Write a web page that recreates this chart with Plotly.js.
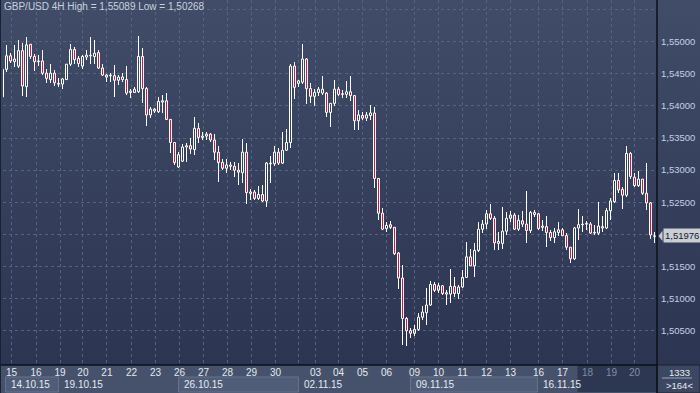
<!DOCTYPE html>
<html><head><meta charset="utf-8">
<script src="https://cdn.plot.ly/plotly-3.0.1.min.js"></script>
<style>
html,body{margin:0;padding:0;background:#2c3550;overflow:hidden;}
#chart{width:700px;height:393px;background:linear-gradient(to bottom,#404c68 0%,#2c3551 92%,#2c3551 100%);}
.scatterlayer path.js-line{shape-rendering:crispEdges;}
</style></head><body><div id="chart"></div>
<script>
const titleText = 'GBP/USD 4H High = 1,55089 Low = 1,50268';
const openP  = [1.5414,1.5457,1.5478,1.5469,1.5462,1.5486,1.5430,1.5496,1.5477,1.5469,1.5470,1.5451,1.5441,1.5451,1.5434,1.5434,1.5441,1.5465,1.5488,1.5474,1.5462,1.5476,1.5478,1.5477,1.5483,1.5459,1.5445,1.5447,1.5447,1.5440,1.5445,1.5441,1.5421,1.5421,1.5422,1.5477,1.5427,1.5386,1.5395,1.5391,1.5406,1.5408,1.5379,1.5343,1.5305,1.5314,1.5336,1.5338,1.5332,1.5365,1.5351,1.5353,1.5356,1.5347,1.5328,1.5312,1.5303,1.5306,1.5306,1.5300,1.5296,1.5328,1.5264,1.5266,1.5256,1.5262,1.5252,1.5310,1.5310,1.5328,1.5311,1.5331,1.5343,1.5462,1.5435,1.5437,1.5473,1.5427,1.5415,1.5421,1.5420,1.5420,1.5390,1.5404,1.5426,1.5418,1.5418,1.5422,1.5416,1.5377,1.5385,1.5381,1.5385,1.5389,1.5287,1.5233,1.5209,1.5215,1.5211,1.5171,1.5132,1.5069,1.5050,1.5046,1.5052,1.5071,1.5078,1.5090,1.5122,1.5113,1.5120,1.5107,1.5107,1.5119,1.5108,1.5118,1.5133,1.5165,1.5151,1.5175,1.5208,1.5216,1.5232,1.5225,1.5186,1.5186,1.5205,1.5225,1.5230,1.5208,1.5221,1.5216,1.5206,1.5231,1.5232,1.5211,1.5212,1.5203,1.5195,1.5203,1.5207,1.5198,1.5180,1.5162,1.5210,1.5215,1.5216,1.5216,1.5202,1.5202,1.5210,1.5210,1.5237,1.5251,1.5284,1.5270,1.5261,1.5326,1.5289,1.5276,1.5286,1.5264,1.5249,1.5197];
const highP  = [1.5462,1.5495,1.5482,1.5495,1.5503,1.5498,1.5508,1.5497,1.5481,1.5479,1.5487,1.5457,1.5466,1.5456,1.5443,1.5443,1.5466,1.5497,1.5492,1.5477,1.5479,1.5487,1.5508,1.5503,1.5487,1.5466,1.5450,1.5451,1.5464,1.5448,1.5451,1.5462,1.5427,1.5430,1.55089,1.5490,1.5430,1.5399,1.5396,1.5414,1.5417,1.5420,1.5380,1.5344,1.5329,1.5341,1.5342,1.5350,1.5382,1.5373,1.5360,1.5359,1.5358,1.5357,1.5337,1.5317,1.5317,1.5313,1.5313,1.5311,1.5349,1.5342,1.5270,1.5269,1.5275,1.5277,1.5313,1.5322,1.5337,1.5334,1.5360,1.5364,1.5466,1.5469,1.5440,1.5497,1.5474,1.5435,1.5426,1.5429,1.5447,1.5422,1.5404,1.5440,1.5430,1.5425,1.5439,1.5447,1.5417,1.5394,1.5391,1.5391,1.5402,1.5398,1.5288,1.5241,1.5220,1.5221,1.5212,1.5173,1.5152,1.5072,1.5054,1.5059,1.5077,1.5088,1.5116,1.5128,1.5126,1.5124,1.5121,1.5114,1.5146,1.5133,1.5121,1.5144,1.5188,1.5178,1.5187,1.5220,1.5222,1.5238,1.5247,1.5228,1.5203,1.5243,1.5235,1.5236,1.5233,1.5230,1.5236,1.5268,1.5236,1.5238,1.5233,1.5222,1.5229,1.5207,1.5210,1.5220,1.5210,1.5202,1.5181,1.5211,1.5239,1.5228,1.5221,1.5220,1.5214,1.5251,1.5228,1.5241,1.5256,1.5295,1.5295,1.5274,1.5338,1.5329,1.5295,1.5299,1.5287,1.5311,1.5251,1.5203];
const lowP   = [1.5412,1.5453,1.5467,1.5461,1.5459,1.5415,1.5414,1.5473,1.5455,1.5462,1.5448,1.5435,1.5435,1.5431,1.5429,1.5426,1.5440,1.5462,1.5466,1.5461,1.5457,1.5472,1.5466,1.5466,1.5458,1.5446,1.5438,1.5438,1.5414,1.5433,1.5438,1.5417,1.5412,1.5420,1.5420,1.5404,1.5369,1.5381,1.5389,1.5389,1.5389,1.5378,1.5326,1.5308,1.5304,1.5312,1.5313,1.5325,1.5324,1.5343,1.5347,1.5347,1.5344,1.5316,1.5282,1.5300,1.5295,1.5301,1.5290,1.5277,1.5280,1.5248,1.5254,1.5254,1.5253,1.5251,1.5243,1.5280,1.5306,1.5308,1.5310,1.5330,1.5334,1.5411,1.5429,1.5434,1.5403,1.5405,1.5400,1.5415,1.5417,1.5382,1.5367,1.5400,1.5416,1.5413,1.5413,1.5407,1.5363,1.5362,1.5378,1.5377,1.5378,1.5272,1.5223,1.5207,1.5204,1.5209,1.5168,1.5115,1.5028,1.50268,1.5038,1.5041,1.5049,1.5067,1.5059,1.5088,1.5111,1.5108,1.5106,1.5090,1.5093,1.5103,1.5100,1.5116,1.5132,1.5150,1.5133,1.5173,1.5202,1.5209,1.5223,1.5175,1.5176,1.5178,1.5199,1.5220,1.5207,1.5206,1.5211,1.5187,1.5202,1.5227,1.5207,1.5206,1.5181,1.5190,1.5186,1.5197,1.5197,1.5176,1.5156,1.5160,1.5191,1.5204,1.5207,1.5201,1.5199,1.5199,1.5204,1.5208,1.5222,1.5249,1.5264,1.5239,1.5258,1.5286,1.5274,1.5274,1.5261,1.5238,1.5193,1.5186];
const closeP = [1.5457,1.5478,1.5470,1.5473,1.5486,1.5431,1.5495,1.5477,1.5469,1.5470,1.5451,1.5443,1.5451,1.5436,1.5435,1.5442,1.5465,1.5488,1.5472,1.5466,1.5477,1.5479,1.5479,1.5482,1.5459,1.5448,1.5448,1.5448,1.5440,1.5445,1.5441,1.5420,1.5423,1.5426,1.5477,1.5427,1.5386,1.5395,1.5392,1.5407,1.5408,1.5379,1.5343,1.5312,1.5324,1.5336,1.5338,1.5333,1.5365,1.5351,1.5353,1.5356,1.5347,1.5328,1.5312,1.5303,1.5308,1.5308,1.5300,1.5297,1.5328,1.5265,1.5266,1.5256,1.5262,1.5252,1.5311,1.5311,1.5328,1.5311,1.5331,1.5343,1.5462,1.5429,1.5439,1.5473,1.5427,1.5415,1.5421,1.5426,1.5426,1.5390,1.5404,1.5426,1.5418,1.5419,1.5422,1.5416,1.5377,1.5386,1.5381,1.5386,1.5389,1.5287,1.5233,1.5208,1.5214,1.5211,1.5170,1.5132,1.5069,1.5050,1.5046,1.5052,1.5071,1.5079,1.5090,1.5122,1.5113,1.5120,1.5108,1.5109,1.5119,1.5108,1.5118,1.5133,1.5165,1.5151,1.5175,1.5208,1.5216,1.5232,1.5225,1.5187,1.5189,1.5205,1.5225,1.5230,1.5208,1.5222,1.5216,1.5206,1.5234,1.5234,1.5209,1.5213,1.5203,1.5195,1.5204,1.5207,1.5198,1.5180,1.5162,1.5210,1.5215,1.5216,1.5217,1.5202,1.5203,1.5213,1.5212,1.5237,1.5252,1.5284,1.5269,1.5261,1.5326,1.5290,1.5276,1.5286,1.5264,1.5249,1.5199,1.51976];

const dayLabels  = ['15','16','19','20','21','22','23','26','27','28','29','30','','03','04','05','06','09','10','11','12','13','16','17','18','19','20'];
const dayTickIdx = [2.25,8.4,14.4,20.1,26.1,32.25,38.25,44.25,50.25,56.25,62.25,68.25,74,78.25,84,90,96,103,109,115,121,127,134,140,146.25,152.25,158];
const greyedDays = 3;
const weekLabels   = ['14.10.15','19.10.15','26.10.15','02.11.15','09.11.15','16.11.15'];
const weekStartIdx = [0.75,14,44,74,102,133.75];
const shadedFromIdx = 143.75;
const lastPrice = 1.51976;
const barsTotal = '1333';
const barsShown = '>164<';

const idx = openP.map((_, i) => i);
const fmt = v => v.toFixed(5).replace('.', ',');
const bodyTop = idx.map(i => Math.max(openP[i], closeP[i]));
const bodyBot = idx.map(i => Math.min(openP[i], closeP[i]));
const isUp = idx.map(i => closeP[i] > openP[i]);

const wx = [], wy = [];
idx.forEach(i => {
  wx.push(i, i, null, i, i, null);
  wy.push(highP[i], bodyTop[i], null, bodyBot[i], lowP[i], null);
});
const wicks = {type:'scatter', mode:'lines', x:wx, y:wy, connectgaps:false,
  line:{color:'#ffffff', width:1}, hoverinfo:'skip'};

function bodies(up) {
  const sel = idx.filter(i => isUp[i] === up);
  return {type:'bar', x:sel, base:sel.map(i => bodyBot[i]), y:sel.map(i => Math.max(bodyTop[i] - bodyBot[i], 0.00003)),
    width:0.5, marker:{color: up ? 'rgba(0,0,0,0)' : '#e3103f', line:{color:'#ffffff', width:1}},
    hoverinfo:'skip'};
}

const yTicks = [];
for (let v = 1.505; v < 1.5552; v += 0.005) yTicks.push(+v.toFixed(3));
const yText = yTicks.map(v => (v > 1.5525 || Math.abs(v - lastPrice) < 0.0015) ? '' : fmt(v));

const nDays = dayLabels.length;
const xText = dayLabels.map((d, i) => i >= nDays - greyedDays ? '<span style="color:#7f8ca4">' + d + '</span>' : d);

const W = 654, H = 365;
const px = p => p / W, py = p => p / H;

const shapes = [
  {type:'rect', xref:'paper', yref:'paper', x0:px(-3), x1:px(697), y0:py(-28), y1:0, fillcolor:'#46526b', line:{width:0}, layer:'below'},
  {type:'rect', xref:'x', yref:'paper', x0:shadedFromIdx, x1:163.7, y0:py(-27), y1:0, fillcolor:'#2e3751', line:{width:0}, layer:'below'}
];
weekStartIdx.forEach((s, i) => {
  if (i % 2 === 0 && i + 1 < weekStartIdx.length) {
    shapes.push({type:'rect', xref:'x', yref:'paper', x0:s, x1:weekStartIdx[i+1], y0:py(-27), y1:py(-12),
      fillcolor:'#505d78', line:{color:'#66728b', width:1}, layer:'below'});
  }
});
shapes.push(
  {type:'rect', xref:'paper', yref:'paper', x0:1, x1:px(697), y0:py(-28), y1:0, fillcolor:'#3c4862', line:{color:'#1a2030', width:1}},
  {type:'line', xref:'paper', yref:'paper', x0:px(659), x1:px(689), y0:py(-13), y1:py(-13), line:{color:'#9aa4b6', width:1}},
  {type:'line', xref:'paper', yref:'paper', x0:1, x1:1, y0:py(-28), y1:1, line:{color:'#0c1019', width:1.5}},
  {type:'line', xref:'paper', yref:'paper', x0:px(-3), x1:1, y0:0, y1:0, line:{color:'#0c1019', width:1.5}},
  {type:'line', xref:'paper', yref:'paper', x0:px(-2.5), x1:px(-2.5), y0:py(-28), y1:1, line:{color:'#1a2132', width:1}},
  {type:'path', xref:'paper', yref:'y',
   path:'M ' + px(655.5) + ' ' + lastPrice + ' L ' + px(659.5) + ' ' + (lastPrice + 0.0008) + ' L ' + px(659.5) + ' ' + (lastPrice - 0.0008) + ' Z',
   fillcolor:'#c9cdd4', line:{width:0}}
);

const annotations = weekLabels.map((w, i) => ({
  text:w, xref:'x', yref:'paper', x:weekStartIdx[i], xanchor:'left', xshift:3, y:py(-19.5), yanchor:'middle',
  showarrow:false, font:{size:10, color:'#e6eaf1'}
}));
annotations.push(
  {text:fmt(lastPrice), xref:'paper', yref:'y', x:px(659.5), xanchor:'left', y:lastPrice, yanchor:'middle', showarrow:false,
   bgcolor:'#c9cdd4', borderpad:1, font:{size:9.5, color:'#141a28'}},
  {text:barsTotal, xref:'paper', yref:'paper', x:px(676), xanchor:'center', y:py(-7), yanchor:'middle', showarrow:false, font:{size:9.5, color:'#e8ecf2'}},
  {text:barsShown, xref:'paper', yref:'paper', x:px(676), xanchor:'center', y:py(-20), yanchor:'middle', showarrow:false, font:{size:9.5, color:'#e8ecf2'}}
);

const layout = {
  width:700, height:393,
  margin:{l:3, r:43, t:0, b:28},
  paper_bgcolor:'rgba(0,0,0,0)', plot_bgcolor:'rgba(0,0,0,0)',
  separators:',.', showlegend:false, dragmode:false, barmode:'overlay', hovermode:false,
  font:{family:'"Liberation Sans", Arial, sans-serif', size:10, color:'#c9d3e4'},
  title:{text:titleText, xref:'paper', x:0, xanchor:'left', yref:'container', y:1, yanchor:'top',
         pad:{l:1, t:3}, font:{size:10, color:'#c9d1df'}},
  xaxis:{range:[0.125, 163.625], tickmode:'array', tickvals:dayTickIdx, ticktext:xText,
         showgrid:true, gridcolor:'#56637d', griddash:'3px,3px', gridwidth:1,
         zeroline:false, showline:false, ticks:'', fixedrange:true,
         tickfont:{size:10, color:'#e3e8f0'}, ticklabelstandoff:0},
  yaxis:{side:'right', range:[1.49966, 1.556493], tickmode:'array', tickvals:yTicks, ticktext:yText,
         showgrid:true, gridcolor:'#56637d', griddash:'3px,3px', gridwidth:1, fixedrange:true,
         zeroline:false, showline:false, ticks:'', ticklabelstandoff:3,
         tickfont:{size:9.5, color:'#c3d0e6'}},
  shapes:shapes, annotations:annotations
};

Plotly.newPlot('chart', [wicks, bodies(true), bodies(false)], layout, {displayModeBar:false});
</script></body></html>
